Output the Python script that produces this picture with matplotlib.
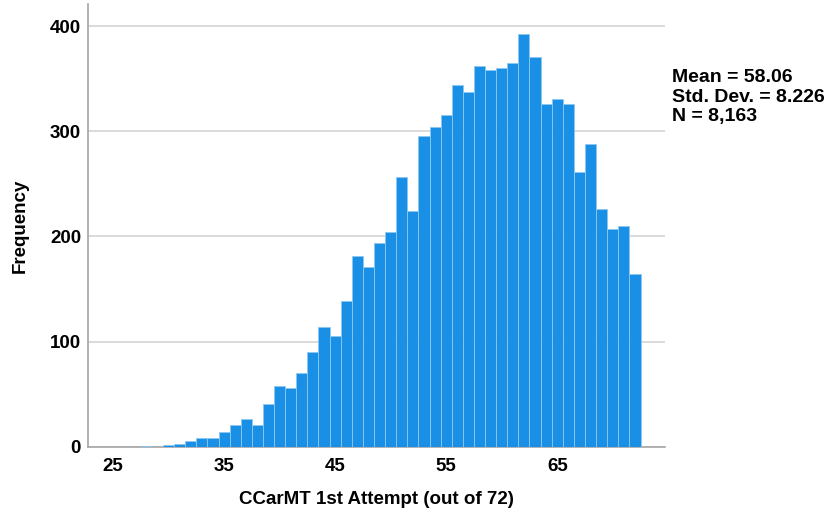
import numpy as np
import matplotlib.pyplot as plt

plt.rcParams['font.family'] = ['Liberation Sans', 'DejaVu Sans']

# bin centres (score) and counts
scores = list(range(28, 73))
counts = [1, 0, 2, 3, 5, 8, 8, 14, 21, 26, 21, 41, 58, 56, 70, 90,
          114, 105, 139, 181, 171, 194, 204, 257, 224, 296, 304, 316, 344, 337,
          362, 358, 360, 365, 393, 371, 326, 331, 326, 261, 288, 226, 207, 210, 164]
xticks = [25, 35, 45, 55, 65]
yticks = [0, 100, 200, 300, 400]
stats = ["Mean = 58.06", "Std. Dev. = 8.226", "N = 8,163"]

fig = plt.figure(figsize=(8.35, 5.16), dpi=100)
ax = fig.add_axes([0.1054, 0.1343, 0.691, 0.8577])

ax.bar(scores, counts, width=1.0, color='#1a8fe6', edgecolor='#8cc8f2',
       linewidth=0.6, zorder=3)

ax.set_xlim(22.75, 74.7)
ax.set_ylim(0, 421)
ax.set_xticks(xticks)
ax.set_yticks(yticks)
ax.tick_params(length=0, labelsize=13.5)
ax.tick_params(axis='x', pad=8)
ax.tick_params(axis='y', pad=5)
for lab in ax.get_xticklabels() + ax.get_yticklabels():
    lab.set_fontweight('bold')

ax.grid(axis='y', color='#d4d4d4', linewidth=1.2, zorder=0)
for s in ['top', 'right']:
    ax.spines[s].set_visible(False)
for s in ['left', 'bottom']:
    ax.spines[s].set_color('#a6a6a6')
    ax.spines[s].set_linewidth(1.2)

ax.set_xlabel("CCarMT 1st Attempt (out of 72)", fontsize=13.5, fontweight='bold', labelpad=12)
ax.set_ylabel("Frequency", fontsize=13.5, fontweight='bold', labelpad=15)

# stats box to the right of the plot
for i, line in enumerate(stats):
    fig.text(672/835, 1 - (78 + 19.5*i)/516, line, fontsize=14, fontweight='bold',
             va='center', ha='left')

fig.savefig('out.png', dpi=100)
